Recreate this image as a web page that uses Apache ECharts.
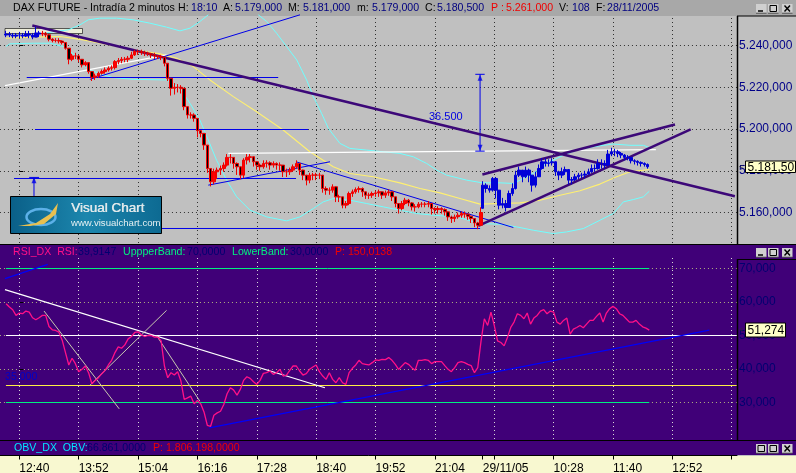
<!DOCTYPE html>
<html><head><meta charset="utf-8">
<style>html,body{margin:0;padding:0;background:#c0c0c0;overflow:hidden}#c{width:796px;height:473px}</style>
<script src="https://cdn.jsdelivr.net/npm/echarts@6/dist/echarts.min.js"></script>
</head><body><div id="c"></div>
<script>
// ---------- time axis (bar numbers, 2-minute bars, 36 bars per tick) ----------
const tickBars   = [0,36,72,108,144,180,216,252,281,324,360,396];
const tickLabels = ['12:40','13:52','15:04','16:16','17:28','18:40','19:52','21:04','29/11/05','10:28','11:40','12:52'];
const extraTickBars = [288,432];
const BAR_STEP = 2;

// ---------- price, session 1 (blue) starts at bar -8 ----------
const s1Start = -8;
const s1Close = [5245.5,5245,5244.5,5245,5245,5244.5,5245.5,5245,5244,5246,5245.5];
const s1High  = [5247,5246.5,5246,5246,5246.5,5246,5247,5247,5246,5249,5247];
const s1Low   = [5244,5244,5243.5,5243.5,5243.5,5243.5,5244,5243.5,5243,5244,5244];

// ---------- price, session 2 (red/black) starts at bar 14 ----------
const s2Start = 14;
const s2Close = [5245.9,5245.1,5243,5242.4,5242.4,5242.1,5241.4,5238.7,5233.4,5235,
5235,5233.4,5230.7,5231.8,5227.5,5224.8,5225.4,5226.7,5227.5,5228.3,
5229.1,5229.4,5232.3,5232.8,5233.4,5233.4,5233.9,5235.5,5237.1,5237.1,
5236.6,5236.3,5236,5235.5,5235,5234.7,5234.4,5231.5,5224.3,5219.5,
5220,5220,5219.5,5210.7,5206.7,5206.7,5205.1,5199.2,5197.9,5192.3,
5181.1,5174.7,5179.5,5180.3,5181.1,5182.7,5186.4,5186.4,5183.5,5181.9,
5177.9,5185.1,5186.4,5186.7,5184.3,5182.7,5181.9,5183.5,5183.8,5182.7,
5183.5,5182.7,5182.7,5179.5,5179.5,5180.3,5181.9,5183.5,5180.3,5177.9,
5175.5,5177.9,5177.9,5177.9,5177.9,5171.5,5170.7,5170.7,5172.3,5167.5,
5167.5,5163.5,5164.3,5169.1,5169.9,5171,5171.5,5169.9,5168.3,5168.3,
5169.1,5169.4,5169.9,5168.3,5169.4,5169.9,5167.5,5164.3,5161.9,
5164.3,5165.9,5164.6,5162.7,5162.7,5164,5164,5164,5164.3,5161.9,5161.4,5161.9,5161.4,5160.3,5157.9,5157.1,5157.9,5158.7,5159.5,5159.2,5158.2,5157.1,5155,5153.9,5160];
const s2High = [5247,5246.5,5245.5,5243.5,5243.5,5243.5,5242.5,5241.5,5238.5,5236,
5236.5,5235.5,5233.5,5232.5,5231.5,5227.5,5226.5,5227.5,5228.5,5229.5,
5230,5230.5,5233,5234,5234.5,5234.5,5235,5237,5238,5238,
5238,5237.5,5237,5236.5,5236.5,5235.5,5235.5,5234.5,5231,5224.5,
5222,5221.5,5221,5219.5,5210.5,5208,5207.5,5205,5199.5,5197.5,
5192,5181,5181,5181.5,5182.5,5184,5188,5188,5186.5,5184,
5182,5186,5188,5188,5186.5,5184.5,5183.5,5185,5185,5184.5,
5184.5,5184,5184,5182.5,5181,5181.5,5183,5185,5183.5,5180.5,
5178,5179,5179,5179,5179,5178,5172.5,5172,5173.5,5172.5,
5168.5,5167.5,5165.5,5170,5171,5172,5172.5,5172,5170,5169.5,
5170,5170.5,5171,5170,5170.5,5171,5170,5167.5,5164.5,
5165.5,5167,5166.5,5165,5164,5165,5165,5165,5165.5,5164.5,5162.5,5163,5162.5,5162,5160.5,5158.5,5159,5160,5160.5,5160.5,5159.5,5158.5,5157,5155.5,5162.5];
const s2Low = [5244.5,5244,5242,5241.5,5241.5,5241,5240.5,5238,5231,5232.5,
5233.5,5232,5229.5,5230,5226.5,5223,5223.5,5224.5,5226,5226.5,
5227.5,5228,5228.5,5231,5231.5,5232,5232,5233.5,5235,5235.5,
5235.5,5235,5235,5234,5233.5,5233.5,5233,5230,5223,5216,
5216.5,5217.5,5217,5209,5205,5205,5203.5,5196,5196,5190,
5179,5172.5,5173.5,5176,5178,5179.5,5182,5183.5,5181,5178,
5176,5176.5,5183,5184,5182,5180.5,5180,5181,5181.5,5180.5,
5181.5,5180.5,5180,5177,5177,5178,5179.5,5181,5178,5175.5,
5173,5174,5175.5,5175.5,5176,5169.5,5168.5,5168.5,5169.5,5165,
5165,5162,5162,5163.5,5167.5,5169,5169.5,5167.5,5166.5,5166.5,
5167,5167.5,5167.5,5166.5,5167,5168,5165.5,5162.5,5159.5,
5161,5163.5,5163,5161,5160.5,5162,5162.5,5162.5,5162.5,5159,5159.5,5159.5,5159.5,5158.5,5156,5155,5155.5,5157,5157.5,5157.5,5156.5,5155,5153,5152,5153.5];

// ---------- price, session 3 (blue) starts at bar 281 ----------
const s3Start = 281;
const s3Close = [5173.1,5171.5,5170.7,5176.3,5170.7,5163.5,5164.3,5162.4,5169.1,5171.5,
5177.9,5180.3,5177.1,5180.3,5177.9,5173.1,5177.1,5181.1,5184.3,5183.5,
5183.8,5184.3,5179.5,5177.9,5179.5,5180.6,5175.5,5175.8,5177.1,5177.9,
5177.9,5178.4,5179.5,5181.1,5181.1,5183.5,5183.5,5182.7,5188,5189.1,
5189.1,5188.3,5187.5,5186.4,5186.4,5184.8,5184.5,5184,5183.5,5183,5181.9];
const s3High = [5175,5174,5173,5177,5177,5170.5,5167,5166,5170.5,5174,
5180,5182,5180,5182,5181,5176,5179.5,5183,5186,5186,
5185.5,5186,5184.5,5180,5181.5,5182,5180.5,5177,5178.5,5179,
5179,5180,5181,5183,5183,5185.5,5185.5,5185,5190,5191,
5190.5,5190,5189,5188,5187.5,5186,5185.5,5185,5184.5,5184,5183.5];
const s3Low = [5167.5,5169.5,5169.5,5170,5166.7,5161.5,5162,5160.5,5163,5168,
5171,5177,5174.5,5176.5,5174.5,5170,5172,5177.5,5180.5,5182,
5182,5182.5,5177.5,5175.5,5176.5,5178,5173.5,5173.5,5175,5176,
5176.5,5176.5,5178,5179,5179.5,5180.5,5181,5181,5182,5187,
5187,5186.5,5186,5185,5185,5183.5,5183,5182.5,5182,5182,5181];

// ---------- price overlays, [bar, price] ----------
const upperBandA = [[14.6,5245.9],[29.7,5247.5],[36.8,5249.9],[41.8,5252.3],[48.9,5253.1],[59,5253.1],[69.1,5252.3],[79.2,5250.7],[89.3,5248.8],[97.4,5247],[103.5,5248.3],[109.5,5251.5],[114.6,5254.7]];
const upperBandB = [[144.9,5254.7],[150,5251.5],[156,5245.9],[162.1,5239.5],[168.2,5233.1],[174.2,5223.5],[178.3,5215.5],[183.3,5207.5],[187.4,5200.3],[194.4,5193.1],[200.5,5190.7],[210.6,5189.9],[220.7,5189.1],[230.8,5188.3],[238.9,5186.7],[247,5183.5],[253.1,5180.3],[259.1,5177.9],[271.3,5175.5],[280.8,5174.2],[291.5,5174.2],[299.6,5173.9],[311.7,5178.7],[319.8,5183.5],[327.9,5186.7],[338,5189.9],[348.1,5191.5],[360.2,5192.8],[370.3,5192.2],[378.4,5192.2],[382.4,5191]];
const lowerBand = [[-8.1,5239.5],[-5.7,5240.8],[8.5,5241.1],[18.6,5241.1],[26.7,5239.5],[34.8,5234.7],[40.8,5229.1],[48.9,5226.4],[57,5224.6],[69.1,5223.8],[89.3,5223.5],[97.4,5219.5],[103.5,5212.3],[109.5,5204.3],[114.6,5194.7],[119.6,5185.1],[125.7,5175.5],[131.8,5167.5],[139.9,5161.1],[150,5157.9],[162.1,5156],[170.2,5157.9],[178.3,5161.9],[184.3,5165.1],[190.4,5166.7],[200.5,5165.9],[210.6,5164.3],[220.7,5162.7],[230.8,5161.1],[241,5159.5],[251.1,5158.7],[265.2,5157.9],[279.4,5154.7],[291.5,5154.4],[301.6,5153.1],[311.7,5151.5],[323.8,5149.9],[331.9,5150.7],[342,5152.3],[352.1,5156.3],[360.2,5159.5],[366.3,5165.1],[372.3,5166.2],[378.4,5167.5],[382,5170.2]];
const movingAvg = [[-8.1,5243.5],[8.5,5244],[24.7,5244.3],[38.8,5242.7],[55,5240.3],[69.1,5237.9],[85.3,5236],[95.4,5233.9],[105.5,5229.9],[115.6,5223.5],[129.8,5215.5],[143.9,5208.3],[160,5199.5],[176.2,5189.1],[190.4,5181.9],[200.5,5178.7],[214.6,5177.1],[230.8,5174.2],[243,5171.5],[255.1,5169.4],[267.2,5166.7],[279.4,5164],[291.5,5164.3],[303.6,5164.6],[315.7,5165.9],[327.9,5168.3],[340,5170.4],[352.1,5173.6],[362.2,5177.1],[370.3,5179.5],[382,5180.6]];

// trend lines: [bar1, price1, bar2, price2]
const purpleTrends = [[7.9,5249.6,433.9,5167.8],[280.8,5178.2,397.6,5202.2],[278.3,5153.6,407.1,5199.8]];
const blueTrends = [[4.5,5224.67,157,5224.67],[9.5,5199.76,175.2,5199.76],[-3.2,5176.29,167.8,5176.29],[-3,5152.34,279.4,5152.34],
  [42.8,5223.8,170.2,5254.7],[114.6,5173.1,188.4,5184.3],[167.8,5184.3,299.6,5152.8],
  [8.9,5176.6,8.9,5167.5],[6,5176.8,12,5176.8],
  [279.4,5226.2,279.4,5189.4],[276.5,5226.2,282.2,5226.2],[276.5,5189.4,282.2,5189.4]];
const whiteTrends = [[-8.7,5220.8,89.3,5235.5],[126.7,5188.3,386,5190.1]];
const measureArrows = [[279.4,5224.6,0],[279.4,5191,180],[8.9,5175.5,0]];

// ---------- RSI, starts at bar -8 ----------
const rsiStart = -8;
const rsiValues = [59.5,58.5,57.7,56,56.7,56.5,57.3,57,55.3,54.7,55.3,56,56,52.7,51.7,51.5,51,48.6,44.9,41.2,
43.2,41.6,39.2,39.9,40.9,38.9,35.6,36.6,37.4,38.6,39.6,41.2,42.6,44.9,46.6,46.2,47.2,49,49.7,50.9,
51.1,50.2,49.7,50,50,49.5,49.5,48.4,40.9,37.4,38.9,38.2,39.2,36.4,30.9,31.4,31.9,29.6,30.6,29.6,
27.2,23.2,22.9,26.2,26.9,27.4,29.4,32.6,34.4,33.7,32.2,33.9,36.6,37.7,37.2,36.2,35.4,36.6,38.7,38.9,
39.4,38.4,38.9,39.9,37.9,38.2,39.6,40.9,40.9,39.4,38.2,38.6,39.9,40.6,41.2,39.2,37.9,36.9,38.9,36.9,
35.9,37.4,35.9,35.4,38.9,40.2,41.2,42.6,41.6,41.4,41.2,41.9,42.7,42.6,42.9,42.8,43.4,42.6,41.4,39.9,
40.9,41.9,41.4,40.4,39.6,42.6,42.6,42.8,42.6,41.6,42.2,42.2,42.2,41,39.9,39.2,40.4,41.9,42.2,41.9,
41.4,41,38.9,40.4,48.4,55,53,57,53,48.4,47.9,46.9,49.4,52.4,54,56.5,56,55,56.7,53.4,
55.2,56,57.3,57.7,56.5,57.3,57,54,53.4,54.5,55.2,50.4,51.9,52.4,53,52.3,53.4,54.5,54.5,55.7,
56.7,54,56.7,58,58.7,58,56.5,56,55,54,54,54.5,53.4,52.6,52.2,51.6];
const rsiBandLines = [[-8.1,70,382,70],[-8.1,30,382,30]];
const rsiWhiteLevel = [[-8.1,50,435,50]];
const rsiYellowLevel = [[-8.1,35.07,435,35.07]];
const rsiBlueTrends = [[-8.7,67,17.2,71.2],[115.2,22.4,418.4,51.6]];
const rsiWhiteTrend = [[-8.7,63.7,185.3,34.4]];
const rsiGreyTrends = [[15,57.3,60.6,28.1],[42.9,35.2,89.3,57.5],[83.3,49.9,109.5,30.4]];

// ---------- tick values of the value axes ----------
const priceMin = 5160, priceMax = 5240, priceStep = 20;
const rsiMin = 30, rsiMax = 70, rsiStep = 10;

// ---------- build ----------
const FONT = '"Liberation Sans", Arial, sans-serif';
const bars = (start, closes, highs, lows, firstOpen) => closes.map((c, i) => {
  const open = i ? closes[i - 1] : firstOpen;
  return [start + i * BAR_STEP, open, c, lows[i], highs[i]];
});
const candle = (data, up, down, wick, z) => ({
  type: 'candlestick', layout: 'horizontal', data, barWidth: 3, clip: false, silent: true, z,
  xAxisIndex: 0, yAxisIndex: 0,
  itemStyle: { color: up, color0: down, borderColor: wick, borderColor0: wick, borderWidth: 1 }
});
const line = (pts, color, width, ax, z) => ({
  type: 'line', data: pts, showSymbol: false, symbol: 'none', clip: false, silent: true,
  xAxisIndex: ax, yAxisIndex: ax, z: z || 3, animation: false,
  lineStyle: { color, width, cap: 'butt', join: 'bevel' }
});
const segs = (list, color, width, ax, z) => list.map(s => line([[s[0], s[1]], [s[2], s[3]]], color, width, ax, z));

const series = [
  line(lowerBand, '#70ffff', 1, 0), line(upperBandA, '#70ffff', 1, 0), line(upperBandB, '#70ffff', 1, 0),
  line(movingAvg, '#fff070', 1.1, 0),
  ...segs(whiteTrends, '#ffffff', 1.4, 0),
  ...segs(blueTrends, '#0000e8', 1, 0),
  ...segs(purpleTrends, '#3c0878', 2.6, 0),
  { type: 'scatter', xAxisIndex: 0, yAxisIndex: 0, silent: true, clip: false, z: 3, symbol: 'triangle', symbolSize: [5, 6],
    symbolRotate: v => v[2], itemStyle: { color: '#0000e8' }, data: measureArrows },
  candle(bars(s1Start, s1Close, s1High, s1Low, 5245), '#0000d8', '#0000d8', '#0000d8', 4),
  candle(bars(s2Start, s2Close, s2High, s2Low, 5245.5), '#ff0000', '#000000', '#f00000', 4),
  candle(bars(s3Start, s3Close, s3High, s3Low, 5162), '#0000d8', '#0000d8', '#0000d8', 4),

  ...segs(rsiBandLines, '#00f080', 1, 1),
  ...segs(rsiWhiteLevel, '#ffffff', 1, 1),
  ...segs(rsiYellowLevel, '#ffee44', 1, 1),
  ...segs(rsiBlueTrends, '#0000f8', 1.3, 1),
  ...segs(rsiWhiteTrend, '#ffffff', 1.2, 1),
  ...segs(rsiGreyTrends, '#c8c8b0', 1, 1),
  line(rsiValues.map((v, i) => [rsiStart + i * BAR_STEP, v]), '#ff1088', 1.3, 1, 4),

  // hidden anchors so the axis-only grids keep their scales
  line([], '#000', 0, 2), line([], '#000', 0, 3), line([], '#000', 0, 4)
];

const PX = { left: -40.06, right: 737, xMin: -36, xMax: 435.2 };
const gridAt = (top, height) => ({ left: PX.left, width: PX.right - PX.left, top, height, show: false, outerBoundsMode: 'none', containLabel: false });
const xBase = { type: 'value', min: PX.xMin, max: PX.xMax, interval: 36 };
const hiddenY = (g) => ({ type: 'value', gridIndex: g, min: 0, max: 1, show: false });
const dotted = (color) => ({ show: true, showMinLine: true, showMaxLine: false, lineStyle: { color, type: [1, 3], width: 1 } });

// ---------- chrome ----------
const g = [];
const rect = (x, y, w, h, fill, z) => g.push({ type: 'rect', shape: { x, y, width: w, height: h }, style: { fill }, z: z === undefined ? -1 : z, silent: true });
const seg = (x1, y1, x2, y2, stroke, w, z) => g.push({ type: 'line', shape: { x1, y1, x2, y2 }, style: { stroke, lineWidth: w || 1 }, z: z === undefined ? 1 : z, silent: true });
const txt = (x, y, text, fill, size, weight, z) => g.push({ type: 'text', x, y, style: { text, fill, font: (weight || 'normal') + ' ' + (size || 10.6) + 'px ' + FONT, verticalAlign: 'middle', align: 'left' }, z: z === undefined ? 40 : z, silent: true });

rect(0, 0, 796, 473, '#c0c0c0');
rect(0, 0, 796, 16, '#a8a8a8');
rect(0, 245, 796, 210, '#400078');
rect(0, 456, 796, 17, '#f8f8d0');
seg(737.5, 16, 737.5, 244, '#000', 1.5);
seg(737, 16, 796, 16, '#000', 1);
seg(0, 244.5, 796, 244.5, '#000', 1);
seg(737.5, 259, 737.5, 440, '#000', 1.5);
seg(737, 259.5, 796, 259.5, '#000', 1);
seg(0, 440.5, 796, 440.5, '#000', 1);

const NAVY = '#000080', RED = '#f00000', DK = '#000070';
[[13,'DAX FUTURE - Intradía 2 minutos','#000'],[178,'H:','#000'],[191,'18:10',NAVY],[223,'A:','#000'],[235,'5.179,000',NAVY],
 [288,'M:','#000'],[303,'5.181,000',NAVY],[357,'m:','#000'],[372,'5.179,000',NAVY],[425,'C:','#000'],[437,'5.180,500',NAVY],
 [491,'P :',RED],[506,'5.261,000',RED],[559,'V:','#000'],[572,'108',NAVY],[596,'F:','#000'],[607,'28/11/2005',NAVY]
].forEach(t => txt(t[0], 8, t[1], t[2]));
[[13,'RSI_DX  RSI:','#ff1088'],[78,'39,9147',DK],[123,'UppperBand:','#00f080'],[187,'70,0000',DK],[232,'LowerBand:','#00f080'],[290,'30,0000',DK],[335,'P: 150,0138',RED]
].forEach(t => txt(t[0], 252, t[1], t[2]));
[[14,'OBV_DX  OBV:','#00e8ff'],[87,'66.861,0000',DK],[153,'P: 1.806.198,0000',RED]].forEach(t => txt(t[0], 448, t[1], t[2]));
txt(5, 377, '35,000', '#0000c8', 10.6);
txt(429, 117, '36.500', '#0000e0', 11);

// window buttons
const btn = (x, y, kind) => {
  rect(x, y, 10.5, 9, '#d0d0d0', 2);
  seg(x, y + 9.2, x + 10.5, y + 9.2, '#505050', 1, 2);
  if (kind === 'min') seg(x + 2, y + 7, x + 7, y + 7, '#000', 1.5, 3);
  if (kind === 'max' || kind === 'res') g.push({ type: 'rect', shape: { x: x + 2, y: y + 1.5, width: 6.5, height: 6 }, style: { fill: 'none', stroke: '#000', lineWidth: 1 }, z: 3, silent: true });
  if (kind === 'close') { seg(x + 2.5, y + 1.5, x + 8, y + 7.5, '#000', 1.4, 3); seg(x + 8, y + 1.5, x + 2.5, y + 7.5, '#000', 1.4, 3); }
};
[[4,'min'],[248,'min'],[444,'res']].forEach(r => { btn(756, r[0], r[1]); btn(768, r[0], 'max'); btn(782, r[0], 'close'); });

// value tags
const tag = (x, y, w, h, text) => {
  g.push({ type: 'rect', shape: { x, y, width: w, height: h }, style: { fill: '#ffffc8', stroke: '#000', lineWidth: 1 }, z: 30, silent: true });
  txt(x + 2, y + h / 2 + 0.5, text, '#000', 12, 'normal', 31);
  txt(739, y + h / 2, '<', '#303030', 8, 'normal', 31);
};
tag(745.5, 161, 50, 11.5, '5.181,50');
tag(745.5, 323, 40, 14, '51,274');

// starting label box under the first bars
g.push({ type: 'rect', shape: { x: 5, y: 28.5, width: 77.5, height: 5 }, style: { fill: '#ececd8', stroke: '#000', lineWidth: 0.6 }, z: 1, silent: true });

// logo
g.push({ type: 'rect', shape: { x: 10.5, y: 196.5, width: 151, height: 37 }, z: 50, silent: true,
  style: { stroke: '#000', lineWidth: 1, fill: { type: 'linear', x: 0, y: 0, x2: 1, y2: 0, colorStops: [{ offset: 0, color: '#0a5f88' }, { offset: 0.5, color: '#1c86ad' }, { offset: 1, color: '#0d6a92' }] } } });
g.push({ type: 'ellipse', shape: { cx: 41, cy: 217, rx: 14.5, ry: 8 }, z: 51, silent: true, style: { fill: 'none', stroke: '#5cb0e8', lineWidth: 2.5 } });
g.push({ type: 'polygon', shape: { points: [[18, 226], [36, 223], [50, 214], [58, 203], [56, 214], [44, 224], [30, 226]] }, z: 52, silent: true, style: { fill: '#e8c050' } });
txt(71, 208, 'Visual Chart', '#dfe8ea', 13.5, 'normal', 53);
txt(71.4, 208, 'Visual Chart', '#dfe8ea', 13.5, 'normal', 53);
txt(71, 223, 'www.visualchart.com', '#e6f0f2', 9.6, 'normal', 53);

const fmtPrice = v => { const s = v.toFixed(3).split('.'); return s[0][0] + '.' + s[0].slice(1) + ',' + s[1]; };
const fmtRsi = v => v.toFixed(3).replace('.', ',');

const option = {
  backgroundColor: '#c0c0c0',
  animation: false,
  tooltip: { show: false },
  graphic: { elements: g },
  grid: [ gridAt(45.5, 167), gridAt(268.5, 134), gridAt(18, 225), gridAt(258, 182), gridAt(454.5, 1) ],
  xAxis: [
    { ...xBase, gridIndex: 0, show: false },
    { ...xBase, gridIndex: 1, show: false },
    { ...xBase, gridIndex: 2, axisLine: { show: false }, axisTick: { show: false }, axisLabel: { show: false }, splitLine: dotted('#303030') },
    { ...xBase, gridIndex: 3, axisLine: { show: false }, axisTick: { show: false }, axisLabel: { show: false }, splitLine: dotted('#d8d8d8') },
    { ...xBase, gridIndex: 4, position: 'bottom', splitLine: { show: false },
      axisLine: { show: true, onZero: false, lineStyle: { color: '#000', width: 1 } },
      axisTick: { show: true, length: 4, lineStyle: { color: '#000' }, customValues: tickBars.concat(extraTickBars) },
      axisLabel: { show: true, margin: 7, align: 'left', color: '#000', fontFamily: FONT, fontSize: 12, hideOverlap: false, customValues: tickBars,
        formatter: v => { const i = tickBars.indexOf(v); return i < 0 ? '' : tickLabels[i]; } } }
  ],
  yAxis: [
    { type: 'value', gridIndex: 0, position: 'right', min: priceMin, max: priceMax, interval: priceStep,
      axisLine: { show: false }, axisTick: { show: true, length: 4, lineStyle: { color: '#000' } },
      axisLabel: { margin: 2, color: '#000088', fontFamily: FONT, fontSize: 12, formatter: fmtPrice },
      splitLine: { show: true, lineStyle: { color: '#303030', type: [1, 3], width: 1 } } },
    { type: 'value', gridIndex: 1, position: 'right', min: rsiMin, max: rsiMax, interval: rsiStep,
      axisLine: { show: false }, axisTick: { show: true, length: 4, lineStyle: { color: '#000' } },
      axisLabel: { margin: 2, color: '#000070', fontFamily: FONT, fontSize: 12, formatter: fmtRsi },
      splitLine: { show: true, lineStyle: { color: '#b0b080', type: [1, 3], width: 1 } } },
    hiddenY(2), hiddenY(3), hiddenY(4)
  ],
  series
};
const chart = echarts.init(document.getElementById('c'), null, { renderer: 'canvas', width: 796, height: 473 });
chart.setOption(option);
</script></body></html>
